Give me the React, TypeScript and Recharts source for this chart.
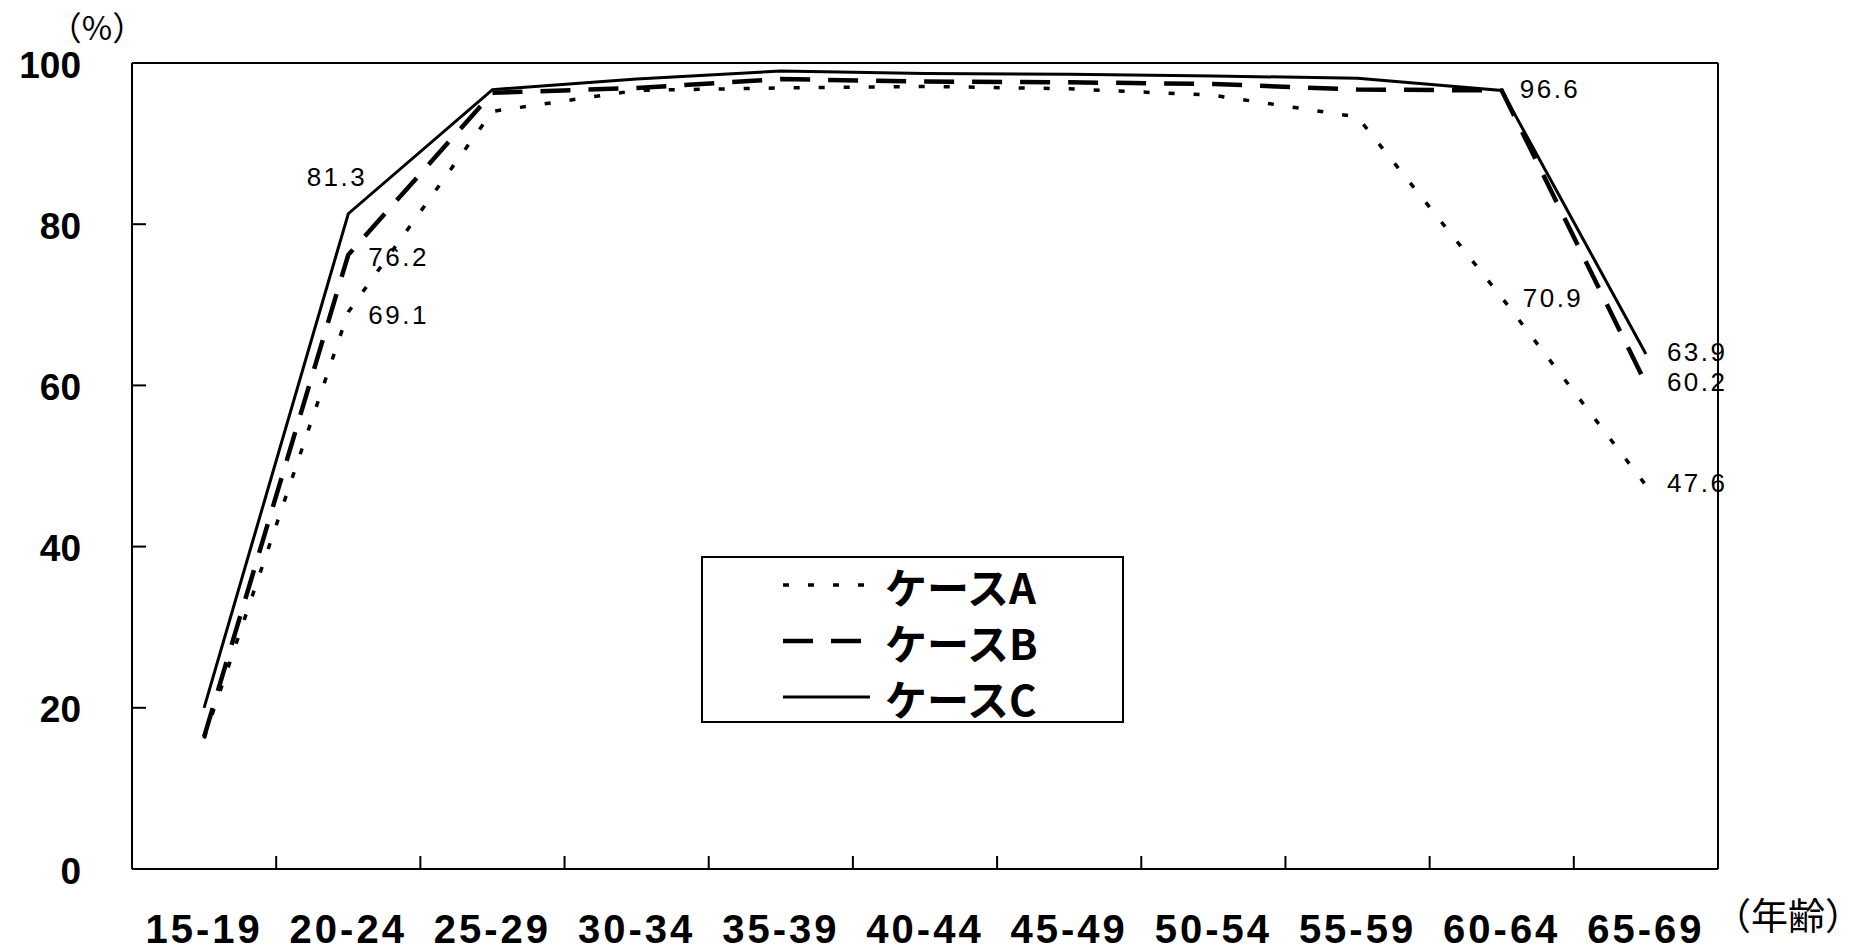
import { LineChart, Line, XAxis, YAxis, Legend, LabelList } from 'recharts';

// labour force participation by age group, three projection cases (%)
const AGES = ['15-19', '20-24', '25-29', '30-34', '35-39', '40-44', '45-49', '50-54', '55-59', '60-64', '65-69'];
const CASE_A = [16.2, 69.1, 94.0, 96.6, 96.9, 97.1, 96.8, 96.0, 93.3, 70.9, 47.6];
const CASE_B = [16.4, 76.2, 96.3, 96.9, 98.0, 97.7, 97.6, 97.4, 96.7, 96.6, 60.2];
const CASE_C = [20.0, 81.3, 96.7, 98.0, 99.0, 98.7, 98.6, 98.4, 98.1, 96.6, 63.9];
const Y_TICKS = [0, 20, 40, 60, 80, 100];

// which points get a value label
const LABELED: Record<string, number[]> = { A: [1, 9, 10], B: [1, 10], C: [1, 9, 10] };

const SERIES = [
  { key: 'A', name: 'ケースA', dash: '6 19', width: 3.5 },
  { key: 'B', name: 'ケースB', dash: '30 18', width: 4.5 },
  { key: 'C', name: 'ケースC', dash: undefined, width: 3 },
];

const data = AGES.map((age, i) => ({ age, A: CASE_A[i], B: CASE_B[i], C: CASE_C[i] }));

const W = 1861;
const H = 950;
const PLOT_LEFT = 132;
const PLOT_RIGHT = 1718;
const PLOT_TOP = 63;
const PLOT_BOTTOM = 869;
const BAND = (PLOT_RIGHT - PLOT_LEFT) / AGES.length;

const XTick = ({ x, y, payload, index }: any) => (
  <g>
    {index < AGES.length - 1 && (
      <line x1={x + BAND / 2} x2={x + BAND / 2} y1={y} y2={y - 13} stroke="#000" strokeWidth={2} />
    )}
    <text
      x={x}
      y={y + 60}
      textAnchor="middle"
      dominantBaseline="central"
      fontFamily="Liberation Sans"
      fontWeight="bold"
      fontSize={40}
      letterSpacing={3}
      fill="#000"
    >
      {payload.value}
    </text>
  </g>
);

const YTick = ({ x, y, payload }: any) => (
  <g>
    <line x1={x} x2={x + 14} y1={y} y2={y} stroke="#000" strokeWidth={2} />
    <text
      x={x - 51}
      y={y + 2}
      textAnchor="end"
      dominantBaseline="central"
      fontFamily="Liberation Sans"
      fontWeight="bold"
      fontSize={37}
      fill="#000"
    >
      {payload.value}
    </text>
  </g>
);

// small nudges so labels sit clear of the lines
const LABEL_POS: Record<string, { dx: number; dy: number; anchor: 'start' | 'end' }> = {
  C1: { dx: 19, dy: -37, anchor: 'end' },
  B1: { dx: 20, dy: 2, anchor: 'start' },
  A1: { dx: 20, dy: 3, anchor: 'start' },
  C9: { dx: 18, dy: -1, anchor: 'start' },
  A9: { dx: 21, dy: 0, anchor: 'start' },
  C10: { dx: 21, dy: -2, anchor: 'start' },
  B10: { dx: 21, dy: -2, anchor: 'start' },
  A10: { dx: 21, dy: -2, anchor: 'start' },
};

const valueLabel = (key: string) => (props: any) => {
  const { x, y, value, index } = props;
  if (!LABELED[key].includes(index)) return null;
  const pos = LABEL_POS[key + index];
  return (
    <text
      x={x + pos.dx}
      y={y + pos.dy}
      textAnchor={pos.anchor}
      dominantBaseline="central"
      fontFamily="Liberation Sans"
      fontSize={26}
      letterSpacing={2.5}
      fill="#000"
    >
      {Number(value).toFixed(1)}
    </text>
  );
};

const LegendBox = () => (
  <svg width={423} height={190} style={{ display: 'block', overflow: 'visible' }}>
    <rect x={1} y={1} width={421} height={165} fill="#fff" stroke="#000" strokeWidth={2} />
    {SERIES.map((s, i) => {
      const cy = 29 + i * 56;
      return (
        <g key={s.key}>
          <line x1={82} x2={169} y1={cy} y2={cy} stroke="#000" strokeWidth={s.width} strokeDasharray={s.dash} />
          <text
            x={184}
            y={cy}
            dominantBaseline="central"
            fontFamily="Noto Sans CJK JP"
            fontWeight="bold"
            fontSize={42}
            fill="#000"
          >
            {s.name}
          </text>
        </g>
      );
    })}
  </svg>
);

export default function App() {
  return (
    <div style={{ position: 'absolute', left: 0, top: 0, width: W, height: H, background: '#fff' }}>
      <LineChart
        width={W}
        height={H}
        data={data}
        margin={{ top: PLOT_TOP - 1, right: W - PLOT_RIGHT - 1, bottom: H - PLOT_BOTTOM - 60, left: PLOT_LEFT - 100 }}
      >
        <XAxis
          dataKey="age"
          height={60}
          interval={0}
          padding={{ left: BAND / 2, right: BAND / 2 }}
          tickSize={0}
          tickMargin={0}
          tickLine={false}
          axisLine={{ stroke: '#000', strokeWidth: 2 }}
          tick={<XTick />}
        />
        <XAxis
          xAxisId="top"
          dataKey="age"
          orientation="top"
          height={1}
          padding={{ left: BAND / 2, right: BAND / 2 }}
          tick={false}
          tickLine={false}
          axisLine={{ stroke: '#000', strokeWidth: 2 }}
        />
        <YAxis
          type="number"
          domain={[0, 100]}
          ticks={Y_TICKS}
          interval={0}
          width={100}
          tickSize={0}
          tickMargin={0}
          tickLine={false}
          axisLine={{ stroke: '#000', strokeWidth: 2 }}
          tick={<YTick />}
        />
        <YAxis
          yAxisId="right"
          orientation="right"
          type="number"
          domain={[0, 100]}
          width={1}
          tick={false}
          tickLine={false}
          axisLine={{ stroke: '#000', strokeWidth: 2 }}
        />
        <Legend
          layout="vertical"
          align="center"
          verticalAlign="middle"
          wrapperStyle={{ left: 701, top: 556, width: 423, height: 190 }}
          content={() => <LegendBox />}
        />
        {SERIES.map((s) => (
          <Line
            key={s.key}
            type="linear"
            dataKey={s.key}
            name={s.name}
            stroke="#000"
            strokeWidth={s.width}
            strokeDasharray={s.dash}
            dot={false}
            activeDot={false}
            isAnimationActive={false}
          >
            <LabelList dataKey={s.key} content={valueLabel(s.key)} />
          </Line>
        ))}
        <text x={97} y={26} textAnchor="middle" dominantBaseline="central" fontFamily="Noto Sans CJK JP" fontSize={33} fill="#000">
          （%）
        </text>
        <text x={1714} y={914} dominantBaseline="central" fontFamily="Noto Sans CJK JP" fontSize={37} fill="#000">
          （年齢）
        </text>
      </LineChart>
    </div>
  );
}
